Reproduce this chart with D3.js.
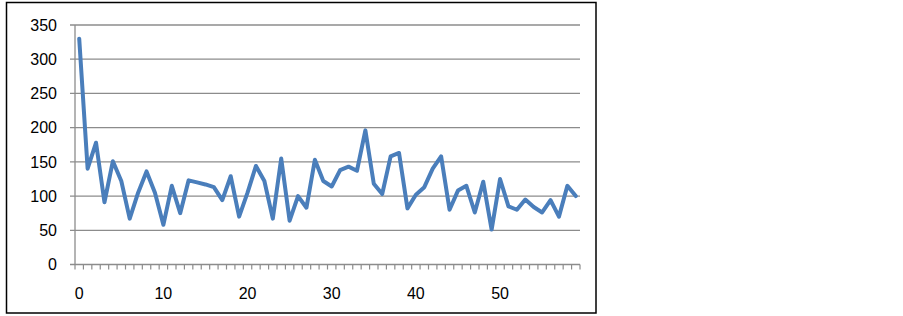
<!DOCTYPE html>
<html lang="en">
<head>
    <meta charset="UTF-8">
    <title>Line chart</title>
    <style>
        body { margin: 0; background: #fff; }
        text { font-family: "Liberation Sans", Arial, sans-serif; }
    </style>
</head>
<body>
    <svg width="903" height="316"></svg>
    <script src="https://d3js.org/d3.v7.min.js"></script>
    <script>
        // data
        var categories = d3.range(0, 60)
        var values = [330, 140, 178, 91, 151, 122, 67, 105, 136, 105,
            58, 115, 75, 123, 120, 117, 113, 94, 129, 70,
            105, 144, 122, 67, 155, 64, 100, 83, 153, 122,
            114, 138, 143, 137, 196, 118, 103, 158, 163, 82,
            102, 113, 140, 158, 80, 108, 115, 76, 121, 51,
            125, 85, 80, 95, 84, 76, 94, 70, 115, 100]
        var yTicks = [0, 50, 100, 150, 200, 250, 300, 350]
        var xLabels = [0, 10, 20, 30, 40, 50]

        var svg = d3.select('svg')
        var position = { left: 75, top: 25, right: 580, bottom: 264.5 }

        // outer frame
        svg.append("rect").attr("x", 6.5).attr("y", 2.5).attr("width", 589.5).attr("height", 310.5)
            .style("fill", "none").style("stroke", "#000").style("stroke-width", 1.5)

        var x = d3.scaleBand().domain(categories).range([position.left, position.right])
        var y = d3.scaleLinear().domain([0, 350]).range([position.bottom, position.top])

        // gridlines + y ticks
        svg.selectAll(".grid").data(yTicks).enter().append("line")
            .attr("x1", position.left - 5).attr("x2", position.right)
            .attr("y1", function (d) { return y(d) }).attr("y2", function (d) { return y(d) })
            .style("stroke", "#8c8c8c").style("stroke-width", 1.3)

        svg.selectAll(".ylab").data(yTicks).enter().append("text")
            .attr("x", 57).attr("y", function (d) { return y(d) })
            .attr("dy", "0.36em").attr("text-anchor", "end")
            .style("font-size", "16px").style("fill", "#000")
            .text(function (d) { return d })

        // y axis line
        svg.append("line").attr("x1", position.left).attr("x2", position.left)
            .attr("y1", position.top).attr("y2", position.bottom)
            .style("stroke", "#8c8c8c").style("stroke-width", 1.3)

        // x tick marks at category boundaries
        var bounds = categories.map(function (d) { return x(d) }).concat([position.right])
        svg.selectAll(".xtick").data(bounds).enter().append("line")
            .attr("x1", function (d) { return d }).attr("x2", function (d) { return d })
            .attr("y1", position.bottom).attr("y2", position.bottom + 5)
            .style("stroke", "#8c8c8c").style("stroke-width", 1.2)

        svg.selectAll(".xlab").data(xLabels).enter().append("text")
            .attr("x", function (d) { return x(d) + x.bandwidth() / 2 }).attr("y", 298.5)
            .attr("text-anchor", "middle")
            .style("font-size", "16px").style("fill", "#000")
            .text(function (d) { return d })

        // the series
        var line = d3.line()
            .x(function (d, i) { return x(categories[i]) + x.bandwidth() / 2 })
            .y(function (d) { return y(d) })

        svg.append("path").datum(values).attr("d", line)
            .style("fill", "none").style("stroke", "#4a7ebb").style("stroke-width", 4)
            .style("stroke-linejoin", "round").style("stroke-linecap", "round")
    </script>
</body>
</html>
